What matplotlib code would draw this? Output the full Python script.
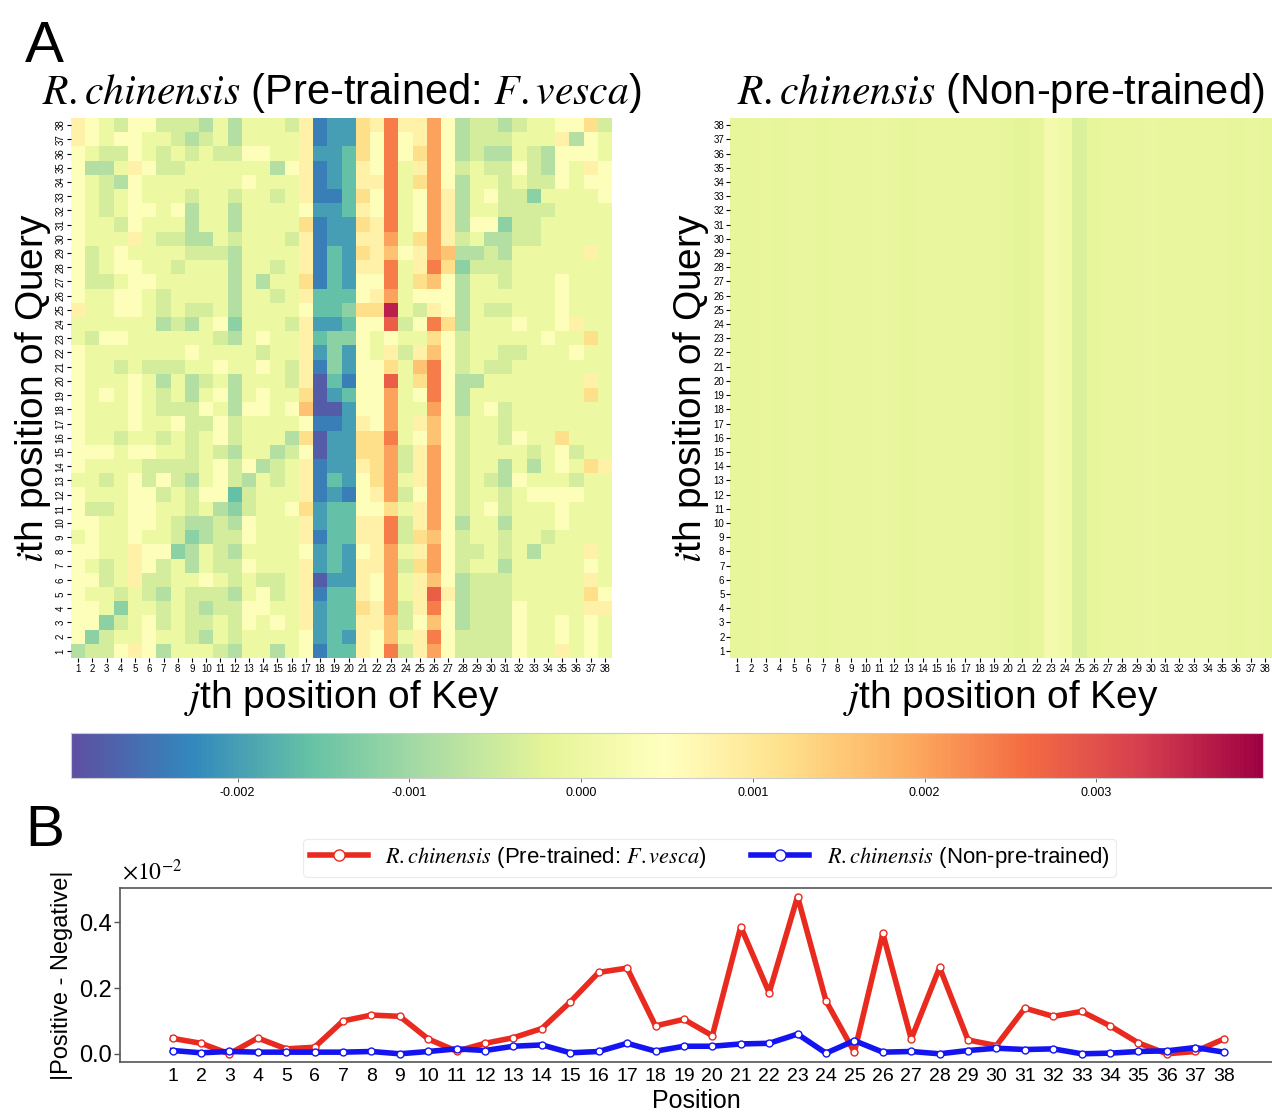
import numpy as np
import matplotlib.pyplot as plt

plt.rcParams['font.family'] = ['Liberation Sans', 'DejaVu Sans']
plt.rcParams['mathtext.fontset'] = 'stix'

positions = np.arange(1, 39)
vmin, vmax = -0.00297, 0.00397

# shade codes, one string per query row,
# top row (query 38) first; 'h' = 0, each letter step = 0.0004
level_codes = "abcdefghijklmnopq"
level_step = 0.0004
pretrained_rows = [
    "jihgiigggfhfhhhgjb" + "cckjnjjmifggfghhiikg",
    "jihiihhgfghfhhhhjb" + "cckinijmifggghhhjfih",
    "ihggihghghggiihhjc" + "cdkinikmifgffhgfiiih",
    "iffhjigghhhhhhfijb" + "cdjinhjmighggigfihji",
    "ihgfihhhhhhhihhhjb" + "cdjjnhkmifhhghggihii",
    "ihghihhhghhghhghjb" + "bdkinhimjfhiggehhhhi",
    "ihghiihifhhfhhhhic" + "cdjinhimjfhhgggghhhh",
    "ihhgihhhfhhfhhhhkb" + "cckjnhimjfiiegghhhhh",
    "ihhhjhggffhghhhgjb" + "ccjjmhkmjghffgghhhhh",
    "ighihhhhgggfhhhhjb" + "dckjlijmlffgfhhhhhjh",
    "ighiihhghhhfhhghjb" + "dcjjnhjnkeggghhhhhhh",
    "igghiihhhhhfhfhhkb" + "dciinhklifhhghhhihhh",
    "ihhiihghhhhfhhghjd" + "ddijmhiiifhhhhhhihhh",
    "jhhiihghgghfhhhhid" + "dekkqhgjifhgghhhihhh",
    "hhhhhhfgfhiehhhgjc" + "cdiioginkfhhhihhijhh",
    "hgiihhhhhhgfhihhjd" + "eeihihhkighhhhhihhkh",
    "ihhhhhhhihhhhghhjc" + "ecihjgjlighhgghhhihh",
    "ihhghggghhihhihgjb" + "eciikhlnighgghhhhhhh",
    "ihhhihfhfghfhhhgja" + "dbiiohkniffhhhhhhhjh",
    "ihihihghfhifhihhka" + "cdiimhinifhhhhhhhhkh",
    "ihhhihgggihfiihila" + "aciimhhmifhighhhhhhh",
    "ihhhihhiggighhhhib" + "bcjimhjlighhghhhhhhh",
    "ihhghhghghighhhfka" + "cckknhilighhgihhkhhh",
    "iiihiihhghgfhhfgia" + "cckkmgjmighhhhghighh",
    "ihhhhgggghigifghjb" + "ccjkmgjmighhfhfhihkj",
    "hhghigigfhigfhghjb" + "dcikmhjmighgfihhhghh",
    "ihhhiighgiidghhhjb" + "cbijmgimighhghiiiihh",
    "igghiihhghfeghhikc" + "ddiikhjmighighhhihhh",
    "iihhiihgffgfihhhjc" + "ddjjngjmifhhfhhhihhh",
    "hihhihhgefggihhhjb" + "ddjjngklighhghhghhhh",
    "iihhjiiefhgfhhhhic" + "dcijmhjmigghghfhhhjh",
    "ihghjighfhggihhhjc" + "dcjjmgkmighhfhhhhhih",
    "iighjgghhihghgghja" + "ccjimhjlifggghhhhhjh",
    "ihhghgfhgggfhighjb" + "ddjimhjojfggghhhhhki",
    "iihehhghgfggiihhjc" + "ddkjmgjnifgggihhhhjj",
    "iieghighgghgihihjc" + "ddjjlgilifgggihhihih",
    "ieghhihhgfhghhhhic" + "dcjilhjniggggihhihih",
    "fggijifhhhgfhhfhib" + "ddjingjmiggggihhjhih",
]

# non-pre-trained map is flat per key column (values x1e-3)
nonpretrained_cols = [-0.15, -0.15, -0.1, -0.15, -0.1, -0.1, -0.15, -0.1, -0.1, -0.1,
                      -0.05, -0.1, -0.15, -0.1, -0.1, -0.1, -0.1, -0.1, -0.1, -0.15,
                      -0.22, -0.15, 0.2, 0.05, -0.32, -0.15, -0.1, -0.1, -0.1, -0.05,
                      -0.1, -0.1, -0.1, -0.1, -0.1, -0.15, -0.1, -0.15]

# |Positive - Negative| in units of 1e-2
red_diff = [0.047, 0.032, 0.0, 0.048, 0.015, 0.02, 0.10, 0.118, 0.114, 0.045,
            0.008, 0.032, 0.049, 0.077, 0.158, 0.248, 0.261, 0.085, 0.105, 0.055,
            0.387, 0.186, 0.479, 0.161, 0.005, 0.367, 0.045, 0.263, 0.042, 0.025,
            0.139, 0.114, 0.129, 0.085, 0.033, 0.0, 0.007, 0.045]
blue_diff = [0.010, 0.003, 0.007, 0.005, 0.005, 0.005, 0.005, 0.007, 0.0, 0.007,
             0.015, 0.010, 0.023, 0.027, 0.003, 0.007, 0.032, 0.008, 0.023, 0.023,
             0.030, 0.032, 0.060, 0.002, 0.040, 0.005, 0.007, 0.0, 0.010, 0.017,
             0.013, 0.015, 0.0, 0.002, 0.007, 0.009, 0.019, 0.005]

left_title = r"$R.chinensis$ (Pre-trained: $F.vesca$)"
right_title = r"$R.chinensis$ (Non-pre-trained)"

pre_mat = np.array([[(level_codes.index(ch) - 7) * level_step for ch in row]
                    for row in pretrained_rows])[::-1]
non_mat = np.tile(np.array(nonpretrained_cols) * 1e-3, (38, 1))

W, H = 1272, 1113
fig = plt.figure(figsize=(W / 100, H / 100), dpi=100)
edges = np.arange(0.5, 39.5)


def draw_map(ax, mat, title):
    mesh = ax.pcolormesh(edges, edges, mat, cmap='Spectral_r', vmin=vmin, vmax=vmax)
    ax.set_xlim(0.5, 38.5)
    ax.set_ylim(0.5, 38.5)
    ax.set_xticks(positions)
    ax.set_yticks(positions)
    ax.tick_params(labelsize=7, length=3, width=0.8, pad=1)
    for s in ax.spines.values():
        s.set_visible(False)
    ax.set_title(title, fontsize=30, pad=10)
    ax.set_xlabel(r"$j$th position of Key", fontsize=28, labelpad=3)
    ax.set_ylabel(r"$i$th position of Query", fontsize=28, labelpad=2)
    return mesh


ax1 = fig.add_axes([71 / W, 1 - 658 / H, 541 / W, 540 / H])
mesh = draw_map(ax1, pre_mat, left_title)
ax1.set_yticklabels(positions, rotation=90, va='center')

ax2 = fig.add_axes([730 / W, 1 - 658 / H, 542 / W, 540 / H])
draw_map(ax2, non_mat, right_title)

cax = fig.add_axes([71 / W, 1 - 778 / H, 1192 / W, 45 / H])
cb = fig.colorbar(mesh, cax=cax, orientation='horizontal',
                  ticks=[-0.002, -0.001, 0.0, 0.001, 0.002, 0.003], format='%.3f')
cb.outline.set_edgecolor('#cccccc')
cb.outline.set_linewidth(0.8)
cax.tick_params(labelsize=9, length=3, width=0.6, color='#555555')

fig.text(25 / W, 1 - 62 / H, "A", fontsize=42, va='baseline')
fig.text(25 / W, 1 - 846 / H, "B", fontsize=42, va='baseline')

# line panel
ax3 = fig.add_axes([120 / W, 1 - 1062 / H, 1152 / W, 174 / H])
ax3.plot(positions, red_diff, color='#e82a1f', lw=4, marker='o', ms=5,
         mfc='white', mec='#e82a1f', mew=1, label=left_title, zorder=3)
ax3.plot(positions, blue_diff, color='#1414f0', lw=4, marker='o', ms=5,
         mfc='white', mec='#1414f0', mew=1, label=right_title, zorder=4)
ax3.set_xlim(-0.85, 39.7)
ax3.set_ylim(-0.025, 0.505)
ax3.set_xticks(positions)
ax3.set_yticks([0.0, 0.2, 0.4])
ax3.set_yticklabels(["0.0", "0.2", "0.4"])
ax3.tick_params(axis='x', labelsize=14, length=0, pad=4)
ax3.tick_params(axis='y', labelsize=17, length=4, width=1, color='#555555', pad=2)
for side in ['left', 'bottom', 'top']:
    ax3.spines[side].set_color('#555555')
    ax3.spines[side].set_linewidth(1.2)
ax3.spines['right'].set_visible(False)
ax3.set_xlabel("Position", fontsize=18, labelpad=3)
ax3.set_ylabel("|Positive - Negative|", fontsize=17, labelpad=4)
ax3.text(0.002, 1.02, r"$\times10^{-2}$", transform=ax3.transAxes, fontsize=17,
         va='bottom', ha='left')
leg = ax3.legend(loc='lower center', bbox_to_anchor=(0.512, 1.0), ncol=2,
                 fontsize=16, frameon=True, handlelength=2.6, columnspacing=2.0,
                 borderpad=0.3, markerscale=1.6)
leg.get_frame().set_edgecolor('#e6e6e6')
leg.get_frame().set_linewidth(0.8)

fig.savefig("out.png", dpi=100)
